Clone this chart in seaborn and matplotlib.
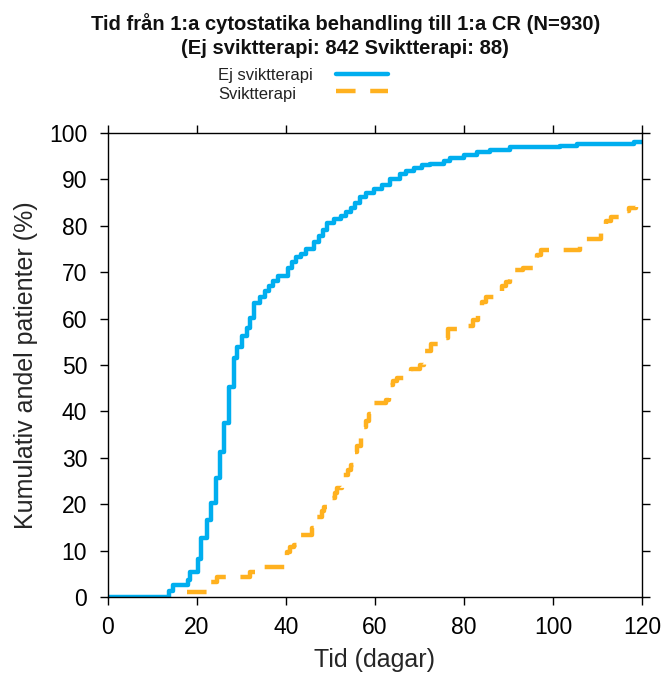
import matplotlib
matplotlib.use('Agg')
import matplotlib.pyplot as plt
import pandas as pd
import seaborn as sns


# step points (day, cumulative %)
blue_days = [0, 13.6, 14.5, 18.0, 18.5, 20.2, 21.0, 22.2, 23.1, 24.2, 25.2, 26.1,
             27.2, 28.4, 29.1, 30.1, 31.2, 31.9, 32.9, 34.2, 35.2, 36.1, 37.1,
             38.2, 40.5, 41.3, 42.2, 43.4, 44.5, 46.3, 47.5, 48.4, 49.3, 50.8,
             52.3, 53.5, 54.6, 55.5, 56.7, 58.0, 59.7, 61.5, 63.4, 65.7, 67.0,
             68.7, 70.5, 72.4, 75.5, 76.9, 79.9, 82.9, 85.9, 90.4, 101.6, 105.4,
             118.1, 120.0]
blue_pct = [0, 1.2, 2.6, 3.7, 5.4, 8.2, 12.7, 16.6, 20.2, 25.6, 31.2, 37.4,
            45.2, 51.4, 53.8, 56.3, 58.0, 60.2, 63.3, 64.6, 66.0, 67.1, 68.2,
            69.2, 71.0, 72.1, 73.2, 74.0, 74.9, 76.4, 77.8, 79.0, 80.5, 81.4,
            82.1, 83.0, 83.9, 85.0, 86.1, 87.0, 87.9, 88.8, 90.0, 91.1, 91.8,
            92.5, 93.0, 93.4, 94.0, 94.5, 95.3, 95.9, 96.3, 97.0, 97.3, 97.7,
            98.0, 98.0]

orange_days = [17.7, 23.0, 24.5, 31.8, 35.0, 40.2, 41.0, 41.7, 42.9, 45.9, 47.0,
               48.0, 48.5, 50.0, 51.0, 51.5, 52.6, 54.0, 54.5, 55.3, 56.0, 56.8,
               57.2, 58.0, 58.7, 59.8, 62.4, 63.1, 64.0, 65.0, 66.8, 68.0, 70.2,
               71.0, 72.5, 75.2, 76.3, 79.7, 82.0, 83.2, 84.0, 85.0, 87.3, 88.5,
               89.5, 90.3, 93.3, 95.5, 96.5, 97.4, 106.0, 110.8, 112.0, 113.0,
               115.6, 117.0, 118.7]
orange_pct = [1.1, 3.3, 4.2, 5.4, 6.5, 9.7, 10.8, 11.2, 13.3, 14.8, 17.3,
              18.5, 19.3, 21.3, 22.4, 23.5, 26.2, 27.3, 28.4, 31.2, 32.5, 34.2,
              36.6, 38.0, 39.5, 41.7, 42.4, 45.6, 46.5, 47.3, 48.4, 49.2, 50.0,
              53.1, 54.6, 55.9, 57.8, 58.5, 59.6, 62.4, 63.5, 64.6, 66.0, 67.0,
              67.8, 70.5, 71.0, 72.5, 73.6, 74.8, 77.1, 80.0, 81.0, 81.8,
              83.2, 83.9, 84.1]

labels = ['Ej sviktterapi', 'Sviktterapi']
colors = ['#00aeef', '#ffb11f']

title = ('Tid från 1:a cytostatika behandling till 1:a CR (N=930)\n'
         '(Ej sviktterapi: 842 Sviktterapi: 88)')

sns.set_style('ticks')
plt.rcParams['font.family'] = ['Liberation Sans', 'DejaVu Sans']

blue = pd.DataFrame({'dag': blue_days, 'pct': blue_pct})
orange = pd.DataFrame({'dag': orange_days, 'pct': orange_pct})

fig = plt.figure(figsize=(6.65, 6.75), dpi=100)
ax = fig.add_axes([0.1624, 0.1156, 0.8030, 0.6874])

sns.lineplot(data=blue, x='dag', y='pct', ax=ax, color=colors[0], lw=3.2,
             drawstyle='steps-post', estimator=None, label=labels[0])
sns.lineplot(data=orange, x='dag', y='pct', ax=ax, color=colors[1], lw=3.2,
             drawstyle='steps-post', estimator=None, label=labels[1],
             linestyle=(0, (4.4, 3.3)))

ax.set_xlim(0, 120)
ax.set_ylim(0, 100)
ax.set_xticks(range(0, 121, 20))
ax.set_yticks(range(0, 101, 10))
for s in ax.spines.values():
    s.set_visible(True)
    s.set_color('black')
    s.set_linewidth(1.0)
ax.tick_params(direction='out', length=6, width=1.0, labelsize=16.5, pad=8,
               top=True, right=True, colors='black')
ax.tick_params(axis='y', pad=9)
ax.set_xlabel('Tid (dagar)', fontsize=18, labelpad=6)
ax.set_ylabel('Kumulativ andel patienter (%)', fontsize=18, labelpad=8)

fig.text(0.519, 0.981, title, ha='center', va='top', fontsize=14.5,
         fontweight='bold', linespacing=1.32, color='#111111')

# legend: samples from the plotted lines, texts left-aligned to their left
handles, _ = ax.get_legend_handles_labels()
ax.legend(handles, ['', ''], loc='center left',
          bbox_to_anchor=(336 / 665, 0.876), bbox_transform=fig.transFigure,
          frameon=False, fontsize=12, handlelength=3.1, handletextpad=0,
          labelspacing=0.15, borderpad=0, borderaxespad=0)
for i, lab in enumerate(labels):
    fig.text(218 / 665, 1 - (74 + 19 * i) / 675, lab, ha='left',
             va='center_baseline', fontsize=12, color='#222222')

fig.savefig('out.png', dpi=100)
